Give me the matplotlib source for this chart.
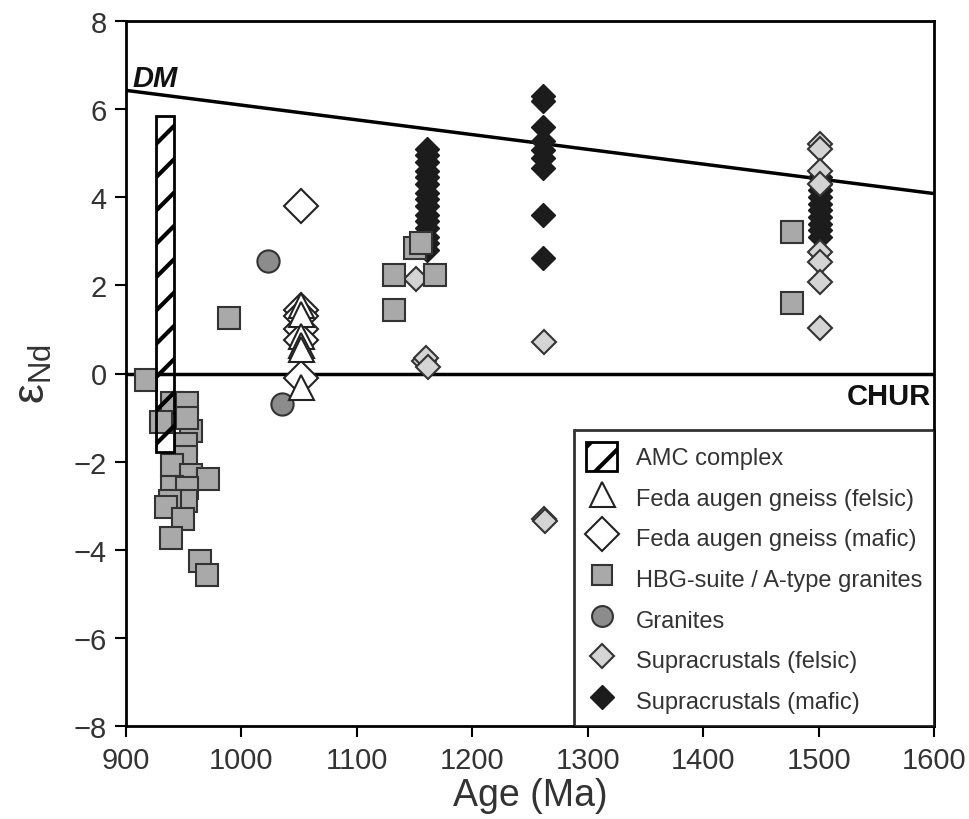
import matplotlib
matplotlib.use("Agg")
import matplotlib.pyplot as plt
from matplotlib.patches import Rectangle

plt.rcParams["font.family"] = ["Liberation Sans", "DejaVu Sans"]
plt.rcParams["mathtext.default"] = "regular"
plt.rcParams["hatch.linewidth"] = 3.0

# depleted mantle line and AMC range
dm_age = [900, 1600]
dm_eps = [6.42, 4.08]
amc_age = [926, 942]
amc_eps = [-1.77, 5.85]

feda_felsic_age = [1052, 1052, 1052, 1052, 1052, 1052]
feda_felsic_eps = [1.55, 1.35, 0.85, 0.65, 0.55, -0.3]

feda_mafic_age = [1052, 1052, 1052, 1052, 1052, 1052]
feda_mafic_eps = [3.8, 1.45, 1.3, 1.0, 0.75, -0.1]

hbg_age = [917, 989, 940, 953, 930, 956, 952, 952, 953, 940, 956, 971, 940,
           953, 952, 938, 935, 949, 939, 964, 970,
           1150, 1156, 1132, 1168, 1132, 1477, 1477]
hbg_eps = [-0.15, 1.25, -0.68, -0.68, -1.1, -1.3, -1.6, -1.9, -1.0, -2.08, -2.3, -2.4, -2.58,
           -2.6, -2.9, -2.9, -3.03, -3.3, -3.72, -4.25, -4.58,
           2.85, 2.95, 2.24, 2.24, 1.43, 3.2, 1.6]

granite_age = [1023, 1035]
granite_eps = [2.55, -0.7]

supra_felsic_age = [1151, 1158, 1160, 1162, 1262, 1262, 1263,
                    1501, 1501, 1501, 1501, 1501, 1501, 1501, 1501]
supra_felsic_eps = [2.15, 0.28, 0.36, 0.14, 0.72, -3.3, -3.35,
                    5.2, 5.1, 4.6, 4.3, 2.75, 2.52, 2.07, 1.03]

supra_mafic_age = [1161] * 15 + [1261] * 9 + [1501] * 10
supra_mafic_eps = [5.1, 4.95, 4.8, 4.6, 4.45, 4.3, 4.1, 3.95, 3.8, 3.6, 3.45, 3.3, 3.1, 2.95, 2.8,
                   6.3, 6.18, 5.6, 5.27, 5.07, 4.89, 4.66, 3.6, 2.63,
                   4.45, 4.3, 4.15, 4.0, 3.85, 3.7, 3.55, 3.4, 3.25, 3.1]

fig = plt.figure(figsize=(9.69, 8.2), dpi=100)
ax = fig.add_axes([126 / 969, 1 - 727.3 / 820, (934 - 126) / 969, (727.3 - 21.7) / 820])

ax.plot(dm_age, dm_eps, color="black", lw=2.5, zorder=2)
ax.axhline(0, color="black", lw=2.5, zorder=2)

amc = Rectangle((amc_age[0], amc_eps[0]), amc_age[1] - amc_age[0], amc_eps[1] - amc_eps[0],
                facecolor="none", edgecolor="black", hatch="/", lw=2, zorder=5,
                label="AMC complex")
ax.add_patch(amc)

ax.plot(supra_mafic_age, supra_mafic_eps, "D", ms=12.5, mfc="#1c1c1c", mec="#1c1c1c",
        mew=1, ls="none", zorder=3)
ax.plot(hbg_age, hbg_eps, "s", ms=15.5, mfc="#a9a9a9", mec="#333333", mew=1.5,
        ls="none", zorder=4)
ax.plot(granite_age, granite_eps, "o", ms=16, mfc="#8c8c8c", mec="#333333", mew=1.5,
        ls="none", zorder=4)
ax.plot(supra_felsic_age, supra_felsic_eps, "D", ms=12.5, mfc="#d4d4d4", mec="#333333",
        mew=1.5, ls="none", zorder=3.5)
ax.plot(feda_mafic_age, feda_mafic_eps, "D", ms=17, mfc="white", mec="#222222", mew=1.5,
        ls="none", zorder=4)
ax.plot(feda_felsic_age, feda_felsic_eps, "^", ms=18, mfc="white", mec="#222222", mew=1.5,
        ls="none", zorder=4.5)

ax.text(906, 6.52, "DM", fontsize=21, fontweight="bold", fontstyle="italic",
        ha="left", va="baseline", color="#111111")
ax.text(1597, -0.2, "CHUR", fontsize=21, fontweight="bold", ha="right", va="top",
        color="#111111")

ax.set_xlim(900, 1600)
ax.set_ylim(-8, 8)
ax.set_xticks(range(900, 1601, 100))
ax.set_yticks(range(-8, 9, 2))
ax.set_yticklabels(["\u22128", "\u22126", "\u22124", "\u22122", "0", "2", "4", "6", "8"])
ax.tick_params(direction="out", length=8, width=1.5, labelsize=21, labelcolor="#333333", pad=6)
for s in ax.spines.values():
    s.set_linewidth(2)

ax.set_xlabel("Age (Ma)", fontsize=27, color="#333333", labelpad=2)
ax.set_ylabel("\u03b5$_{Nd}$", fontsize=32, color="#333333", labelpad=14)

handles = [
    Rectangle((0, 0), 1, 1, facecolor="white", edgecolor="black", hatch="/", lw=2),
    plt.Line2D([], [], marker="^", ms=18, mfc="white", mec="#222222", mew=1.5, ls="none"),
    plt.Line2D([], [], marker="D", ms=17, mfc="white", mec="#222222", mew=1.5, ls="none"),
    plt.Line2D([], [], marker="s", ms=15, mfc="#a9a9a9", mec="#333333", mew=1.5, ls="none"),
    plt.Line2D([], [], marker="o", ms=15, mfc="#8c8c8c", mec="#333333", mew=1.5, ls="none"),
    plt.Line2D([], [], marker="D", ms=12, mfc="#d4d4d4", mec="#333333", mew=1.5, ls="none"),
    plt.Line2D([], [], marker="D", ms=12, mfc="#1c1c1c", mec="#1c1c1c", mew=1, ls="none"),
]
labels = ["AMC complex", "Feda augen gneiss (felsic)", "Feda augen gneiss (mafic)",
          "HBG-suite / A-type granites", "Granites", "Supracrustals (felsic)",
          "Supracrustals (mafic)"]
leg = ax.legend(handles, labels, loc="lower right", fontsize=17, frameon=True,
                fancybox=False, edgecolor="black", borderaxespad=0, labelspacing=0.5,
                handlelength=1.3, handleheight=1.5, handletextpad=0.8, borderpad=0.5,
                labelcolor="#333333")
leg.get_frame().set_linewidth(2)
leg.set_zorder(6)

fig.savefig("out.png", dpi=100)
